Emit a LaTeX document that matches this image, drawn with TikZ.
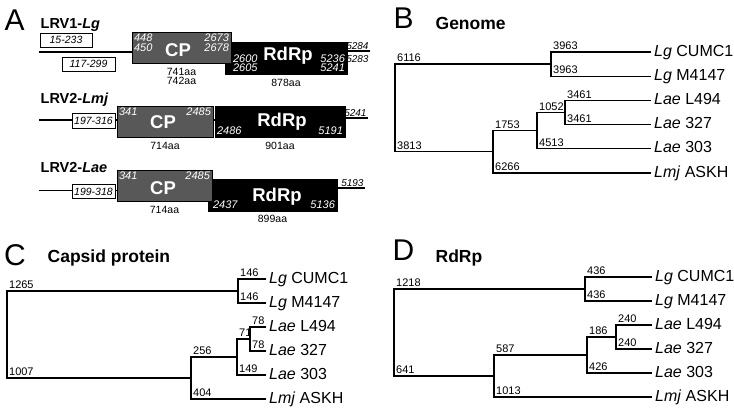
\documentclass[tikz,border=0pt]{standalone}
\usepackage{fontspec}
\setmainfont{Liberation Sans}
\definecolor{cpgray}{RGB}{88,88,88}

\tikzset{
        panel/.style={anchor=base west, inner sep=0pt, font=\fontsize{30}{30}\selectfont},
        ptitle/.style={anchor=base west, inner sep=0pt, font=\fontsize{17.5}{18}\selectfont\bfseries},
        vname/.style={anchor=base west, inner sep=0pt, font=\fontsize{14.5}{15}\selectfont\bfseries},
        cpbox/.style={draw, line width=0.8pt, fill=cpgray},
        rdbox/.style={draw, line width=0.8pt, fill=black},
        orfbox/.style={draw, line width=0.8pt, fill=white, inner sep=0pt, font=\fontsize{10.5}{10.5}\selectfont\itshape},
        wnum/.style={text=white, inner sep=1.8pt, font=\fontsize{11}{9.8}\selectfont\itshape},
        wbig/.style={text=white, inner sep=0pt, font=\fontsize{18.5}{18.5}\selectfont\bfseries},
        aalen/.style={anchor=north, inner sep=4pt, align=center, font=\fontsize{10.5}{9.5}\selectfont},
        endnum/.style={inner sep=0.8pt, font=\fontsize{10}{10}\selectfont\itshape},
        brnum/.style={midway, anchor=south west, inner sep=1.5pt, font=\fontsize{11}{11}\selectfont},
        leaf/.style={anchor=west, inner sep=2.5pt, text height=11pt, text depth=3pt, font=\fontsize{16}{16}\selectfont},
}

\begin{document}
\begin{tikzpicture}[x=1pt, y=-1pt, line width=1.3pt]
        \def\twig(#1)(#2)#3{\draw (#1) |- node[brnum]{#3} (#2);}
        \useasboundingbox (0,0) rectangle (734,408);

        \node[panel] (pA) at (4,30) {A};
        \node[vname] (tA1) at (40,28) {LRV1-\textit{Lg}};
        \node[vname] (tA2) at (40,103) {LRV2-\textit{Lmj}};
        \node[vname] (tA3) at (40,172) {LRV2-\textit{Lae}};

        \node[rdbox, minimum width=122, minimum height=32] (rdA) at (286,58) {};
        \node[cpbox, minimum width=99, minimum height=31] (cpA) at (181.5,47.5) {};
        \coordinate (sA) at (39,52);
        \coordinate (eA) at (370,51);
        \draw (sA) -- (sA -| cpA.west);
        \draw (eA -| rdA.east) -- (eA);
        \node[orfbox, minimum width=52, minimum height=14] (oA1) at (66,40) {15-233};
        \node[orfbox, minimum width=53, minimum height=14] (oA2) at (88.5,64) {117-299};
        \node[wnum, anchor=north west, align=left] at (cpA.north west) {448\\450};
        \node[wnum, anchor=north east, align=right] at (cpA.north east) {2673\\2678};
        \node[wbig] at ([shift={(-3.5,3)}]cpA.center) {CP};
        \node[wnum, anchor=south west, align=left] at ([xshift=6]rdA.south west) {2600\\2605};
        \node[wnum, anchor=south east, align=right] at (rdA.south east) {5236\\5241};
        \node[wbig] at ([shift={(2,-2)}]rdA.center) {RdRp};
        \node[aalen] at (cpA.south) {741aa\\742aa};
        \node[aalen] at (rdA.south) {878aa};
        \node[endnum, anchor=south east] at (eA) {5284};
        \node[endnum, anchor=north east] at ([yshift=-3.5]eA) {5283};

        \node[rdbox, minimum width=130, minimum height=31] (rdB) at (280,121.5) {};
        \node[cpbox, minimum width=96, minimum height=31] (cpB) at (165,121.5) {};
        \coordinate (sB) at (39,120);
        \coordinate (eB) at (368,118);
        \draw (sB) -- (sB -| cpB.west);
        \draw (cpB.east |- sB) -- (rdB.west |- sB);
        \draw (eB -| rdB.east) -- (eB);
        \node[orfbox, minimum width=43, minimum height=15] (oB) at (93.5,120.5) {197-316};
        \node[wnum, anchor=north west] at (cpB.north west) {341};
        \node[wnum, anchor=north east] at (cpB.north east) {2485};
        \node[wbig] at ([shift={(-2,1)}]cpB.center) {CP};
        \node[wnum, anchor=south west] at (rdB.south west) {2486};
        \node[wnum, anchor=south east] at (rdB.south east) {5191};
        \node[wbig] at ([shift={(2,0)}]rdB.center) {RdRp};
        \node[aalen] at (cpB.south) {714aa};
        \node[aalen] at (rdB.south) {901aa};
        \node[endnum, anchor=south east] at (eB) {5241};

        \node[rdbox, minimum width=129, minimum height=32] (rdC) at (272.5,195) {};
        \node[cpbox, minimum width=95, minimum height=31] (cpC) at (164.5,185.5) {};
        \coordinate (sC) at (39,190.5);
        \coordinate (eC) at (365,188);
        \draw (sC) -- (sC -| cpC.west);
        \draw (eC -| rdC.east) -- (eC);
        \node[orfbox, minimum width=43, minimum height=14] (oC) at (93.5,191.5) {199-318};
        \node[wnum, anchor=north west] at (cpC.north west) {341};
        \node[wnum, anchor=north east] at (cpC.north east) {2485};
        \node[wbig] at ([shift={(-1.5,2.5)}]cpC.center) {CP};
        \node[wnum, anchor=south west] at ([xshift=3]rdC.south west) {2437};
        \node[wnum, anchor=south east] at (rdC.south east) {5136};
        \node[wbig] at ([shift={(4.5,2)}]rdC.center) {RdRp};
        \node[aalen] at (cpC.south) {714aa};
        \node[aalen, inner sep=3pt] at (rdC.south) {899aa};
        \node[endnum, anchor=south east] at (eC) {5193};

        \node[panel] (pB) at (393,28) {B};
        \node[ptitle] (tB) at (435,29) {Genome};
        \coordinate (rtB) at (395,107.95);
        \coordinate (lgB) at (551,64.1);
        \coordinate (n1B) at (493,151.8);
        \coordinate (n2B) at (537,130.65);
        \coordinate (n3B) at (565,112.5);
        \node[leaf] (b1) at (651,52) {\textit{Lg} CUMC1};
        \node[leaf] (b2) at (651,76.2) {\textit{Lg} M4147};
        \node[leaf] (b3) at (651,100.4) {\textit{Lae} L494};
        \node[leaf] (b4) at (651,124.6) {\textit{Lae} 327};
        \node[leaf] (b5) at (651,148.8) {\textit{Lae} 303};
        \node[leaf] (b6) at (651,173) {\textit{Lmj} ASKH};
        \twig(rtB)(lgB){6116}
        \twig(lgB)(b1.west){3963}
        \twig(lgB)(b2.west){3963}
        \twig(rtB)(n1B){3813}
        \twig(n1B)(n2B){1753}
        \twig(n1B)(b6.west){6266}
        \twig(n2B)(n3B){1052}
        \twig(n2B)(b5.west){4513}
        \twig(n3B)(b3.west){3461}
        \twig(n3B)(b4.west){3461}

        \node[panel] (pC) at (3.5,265) {C};
        \node[ptitle] (tC) at (47,262) {Capsid protein};
        \coordinate (rtC) at (7,334.5);
        \coordinate (lgC) at (238,291);
        \coordinate (n1C) at (191,378);
        \coordinate (n2C) at (237,357);
        \coordinate (n3C) at (250,339);
        \node[leaf] (c1) at (266,279) {\textit{Lg} CUMC1};
        \node[leaf] (c2) at (266,303) {\textit{Lg} M4147};
        \node[leaf] (c3) at (266,327) {\textit{Lae} L494};
        \node[leaf] (c4) at (266,351) {\textit{Lae} 327};
        \node[leaf] (c5) at (266,375) {\textit{Lae} 303};
        \node[leaf] (c6) at (266,399) {\textit{Lmj} ASKH};
        \twig(rtC)(lgC){1265}
        \twig(lgC)(c1.west){146}
        \twig(lgC)(c2.west){146}
        \twig(rtC)(n1C){1007}
        \twig(n1C)(n2C){256}
        \twig(n1C)(c6.west){404}
        \twig(n2C)(n3C){71}
        \twig(n2C)(c5.west){149}
        \twig(n3C)(c3.west){78}
        \twig(n3C)(c4.west){78}

        \node[panel] (pD) at (392,260) {D};
        \node[ptitle] (tD) at (435,262) {RdRp};
        \coordinate (rtD) at (394,332.5);
        \coordinate (lgD) at (585,289);
        \coordinate (n1D) at (494,376);
        \coordinate (n2D) at (587,355);
        \coordinate (n3D) at (616,337);
        \node[leaf] (d1) at (652,277) {\textit{Lg} CUMC1};
        \node[leaf] (d2) at (652,301) {\textit{Lg} M4147};
        \node[leaf] (d3) at (652,325) {\textit{Lae} L494};
        \node[leaf] (d4) at (652,349) {\textit{Lae} 327};
        \node[leaf] (d5) at (652,373) {\textit{Lae} 303};
        \node[leaf] (d6) at (652,397) {\textit{Lmj} ASKH};
        \twig(rtD)(lgD){1218}
        \twig(lgD)(d1.west){436}
        \twig(lgD)(d2.west){436}
        \twig(rtD)(n1D){641}
        \twig(n1D)(n2D){587}
        \twig(n1D)(d6.west){1013}
        \twig(n2D)(n3D){186}
        \twig(n2D)(d5.west){426}
        \twig(n3D)(d3.west){240}
        \twig(n3D)(d4.west){240}
\end{tikzpicture}
\end{document}
